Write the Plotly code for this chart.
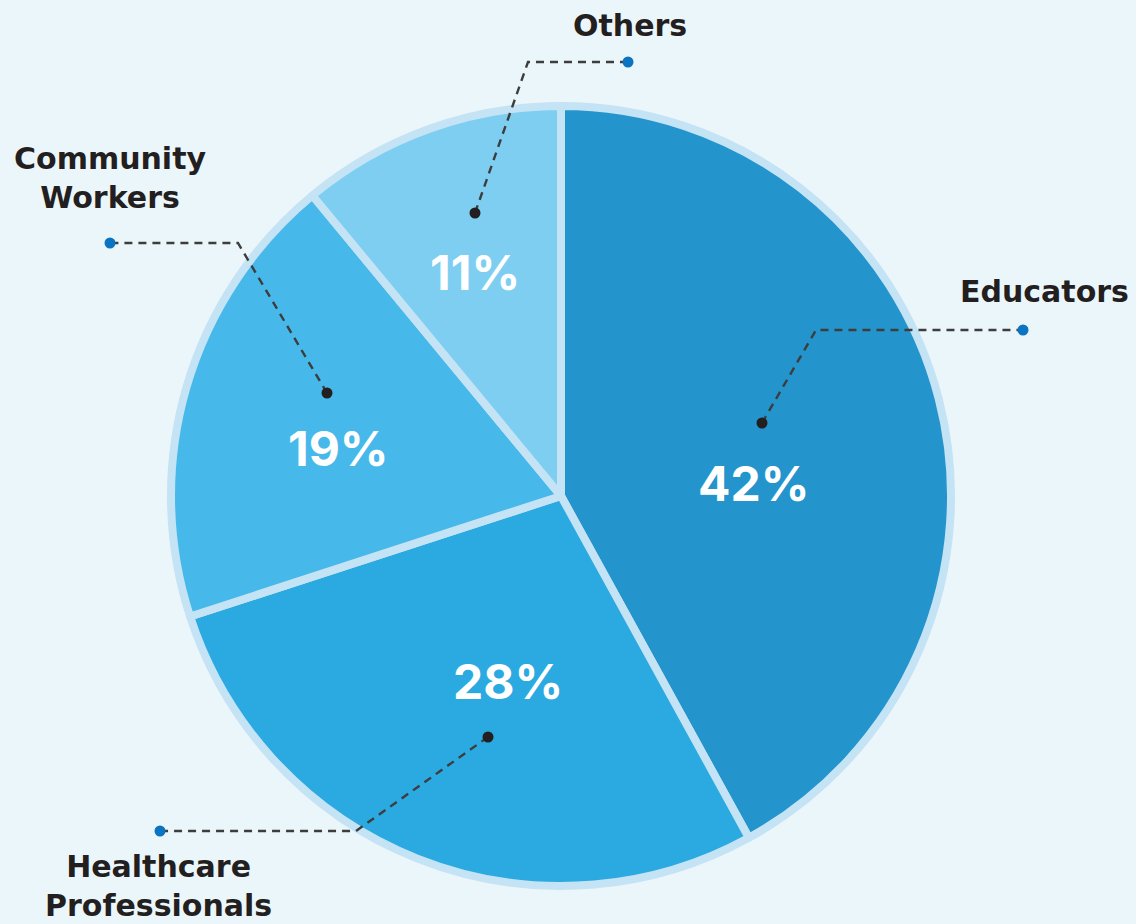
import plotly.graph_objects as go

# ---- data ----
categories = ["Educators", "Healthcare<br>Professionals", "Community<br>Workers", "Others"]
values = [42, 28, 19, 11]
colors = ["#2494CC", "#2BA9E1", "#47B8EA", "#7ECEF2"]

W, H = 1136, 924
CX, CY, R = 561, 496, 390  # pie centre / radius in pixels

def px(x):
    return x / W

def py(y):
    return 1 - y / H

fig = go.Figure()
fig.add_trace(go.Pie(
    labels=categories,
    values=values,
    sort=False,
    direction="clockwise",
    rotation=0,
    marker=dict(colors=colors, line=dict(color="#C4E3F5", width=8)),
    textinfo="none",
    hoverinfo="label+percent",
    showlegend=False,
    domain=dict(x=[px(CX - R), px(CX + R)], y=[py(CY + R), py(CY - R)]),
))

# layout decorations: percentage label pos, inner dot, elbow, outer dot, category label pos
deco = [
    dict(pct=(754, 483), dot=(762, 423), elbow=(816, 330), end=(1023, 330), lab=(1044, 291)),
    dict(pct=(508, 681), dot=(488, 737), elbow=(356, 831), end=(160, 831), lab=(158, 886)),
    dict(pct=(338, 448), dot=(327, 393), elbow=(238, 243), end=(110, 243), lab=(110, 178)),
    dict(pct=(475, 273), dot=(475, 213), elbow=(528, 62), end=(628, 62), lab=(630, 26)),
]

shapes = []
annotations = []
for cat, v, d in zip(categories, values, deco):
    (x0, y0), (x1, y1), (x2, y2) = d["dot"], d["elbow"], d["end"]
    path = f"M{px(x0)},{py(y0)} L{px(x1)},{py(y1)} L{px(x2)},{py(y2)}"
    shapes.append(dict(type="path", xref="paper", yref="paper", path=path,
                       line=dict(color="#3D3D3D", width=2.4, dash="8px,6px")))
    for (cx, cy), col in (((x0, y0), "#231F20"), ((x2, y2), "#0B74C1")):
        r = 5.5
        shapes.append(dict(type="circle", xref="paper", yref="paper",
                           x0=px(cx - r), x1=px(cx + r), y0=py(cy + r), y1=py(cy - r),
                           fillcolor=col, line=dict(width=0)))
    annotations.append(dict(x=px(d["pct"][0]), y=py(d["pct"][1]), xref="paper", yref="paper",
                            text=f"{v}%", showarrow=False, xanchor="center", yanchor="middle",
                            font=dict(family="Inter", size=48, color="white", weight=700)))
    annotations.append(dict(x=px(d["lab"][0]), y=py(d["lab"][1]), xref="paper", yref="paper",
                            text=cat, showarrow=False, xanchor="center", yanchor="middle",
                            align="center",
                            font=dict(family="DejaVu Sans", size=30, color="#231F20", weight=700)))

fig.update_layout(
    width=W, height=H,
    margin=dict(l=0, r=0, t=0, b=0),
    paper_bgcolor="#EBF6FB",
    plot_bgcolor="#EBF6FB",
    shapes=shapes,
    annotations=annotations,
)

fig.write_html("out.html")
